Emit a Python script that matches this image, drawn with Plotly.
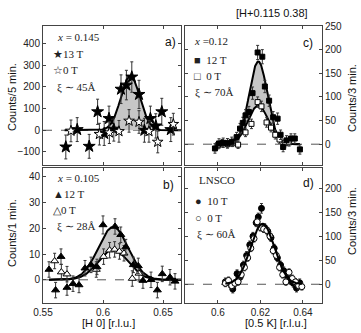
import numpy as np
import plotly.graph_objects as go

# ---------------- data ----------------
# panel a) x = 0.145
a_x_13T = [0.569, 0.5785, 0.5885, 0.5955, 0.601, 0.605, 0.609, 0.615, 0.6195, 0.624, 0.630, 0.6345, 0.6395, 0.644, 0.649, 0.6565]
a_y_13T = [-77, 3, -74, 85, -15, 54, 5, 189, 208, 245, 165, 0, 54, 20, 85, 3]
a_e_13T = [55, 55, 55, 58, 55, 57, 55, 66, 68, 70, 65, 55, 57, 56, 62, 55]
a_x_0T = [0.5733, 0.597, 0.6053, 0.6133, 0.6217, 0.630, 0.6383, 0.6456, 0.6586]
a_y_0T = [-3, -18, -11, -5, 43, 38, -5, -54, 28]
a_e_0T = [50, 50, 50, 50, 52, 52, 50, 50, 50]
a_fit_13T = (250, 0.6228, 0.0079)   # amplitude, centre, sigma
a_fit_range = (0.568, 0.665)

# panel b) x = 0.105
b_x_12T = [0.555, 0.5605, 0.565, 0.570, 0.575, 0.580, 0.585, 0.590, 0.595, 0.600, 0.6100, 0.6148, 0.619, 0.6253, 0.6294, 0.6333, 0.640, 0.6453, 0.6494, 0.6558, 0.660]
b_y_12T = [4, -4, 9, -3, -1.5, -2, 4.5, 5.8, 5, 21.3, 20.7, 17.5, 12.7, 5.8, 5.4, -0.3, 0, -4, 2.3, 1, -0.6]
b_e_12T = [3, 3, 3, 3, 3, 3, 3, 3, 3, 3.5, 3, 3, 3, 3, 3, 3, 3, 3, 3, 3, 3]
b_x_0T = [0.5597, 0.5653, 0.570, 0.5944, 0.6005, 0.6055, 0.6097, 0.6137, 0.6175, 0.6244, 0.6300]
b_y_0T = [7.3, 3, 2.2, 4, 9, 11.5, 11.8, 11, 10.3, 0.5, 2.5]
b_e_0T = [3, 3, 3, 3, 3, 3, 3, 3, 3, 3, 3]
b_fit_12T = (20.5, 0.6085, 0.0125)
b_fit_0T = (11.7, 0.6085, 0.0125)
b_fit_range = (0.555, 0.665)

# panel c) x = 0.12
c_x_12T = [0.5986, 0.6005, 0.6025, 0.6045, 0.6065, 0.6088, 0.6104, 0.6117, 0.6130, 0.6146, 0.6163, 0.6187, 0.6209, 0.6221, 0.6241, 0.6260, 0.6281, 0.6295, 0.6307, 0.6323, 0.6344, 0.6362, 0.6386]
c_y_12T = [-9, 1.5, 3, 2, 5, 15, 33, 45, 61, 68, 108, 194, 185, 122, 92, 57, 54, 20, -6, 8, 12, 12, -11]
c_e_12T = [10, 10, 10, 10, 10, 10, 11, 12, 12, 12, 13, 15, 15, 13, 12, 12, 12, 10, 10, 10, 10, 10, 10]
c_x_0T = [0.6000, 0.6020, 0.6045, 0.6070, 0.6095, 0.6130, 0.6158, 0.6187, 0.6205, 0.6229, 0.6250, 0.6270, 0.6290, 0.6315, 0.6335]
c_y_0T = [-2, 2, 0, 3, -1, 25, 43, 89, 80, 46, 35, 20, 10, 2, 4]
c_e_0T = [8, 8, 8, 8, 8, 9, 10, 11, 11, 10, 9, 9, 8, 8, 8]
c_fit_12T = (175, 0.6190, 0.0043)
c_fit_0T = (82, 0.6190, 0.0048)
c_fit_range = (0.5986, 0.6386)

# panel d) LNSCO
d_x_10T = [0.6035, 0.6055, 0.6070, 0.6090, 0.6105, 0.6120, 0.6135, 0.6150, 0.6165, 0.6180, 0.6190, 0.6205, 0.6220, 0.6235, 0.6250, 0.6265, 0.6280, 0.6295, 0.6310, 0.6325, 0.6340, 0.6355, 0.6370, 0.6385]
d_y_10T = [5, 2, -10, 22, 15, 40, 60, 82, 100, 128, 140, 158, 118, 110, 97, 75, 55, 40, 28, 18, 8, 2, -8, 3]
d_e_10T = [8] * 11 + [10] + [8] * 12
d_x_0T = [0.6035, 0.6050, 0.6065, 0.6080, 0.6095, 0.6110, 0.6125, 0.6140, 0.6155, 0.6170, 0.6185, 0.6200, 0.6215, 0.6230, 0.6245, 0.6260, 0.6275, 0.6290, 0.6305, 0.6320, 0.6335, 0.6350, 0.6365, 0.6380, 0.6395]
d_y_0T = [2, 8, -3, 2, 5, 20, 35, 55, 75, 95, 130, 118, 115, 112, 100, 70, 60, 35, 20, 5, 25, 12, 5, -3, -5]
d_e_0T = [7] * 25
d_fit = (126, 0.6210, 0.0056)
d_fit_range = (0.6035, 0.6395)

# tick values
a_yticks = [-100, 0, 100, 200, 300, 400]
b_yticks = [0, 10, 20, 30, 40]
c_yticks = [0, 50, 100, 150, 200, 250]
d_yticks = [0, 50, 100, 150, 200]
ab_xticks = [0.55, 0.6, 0.65]
ab_xticklabels = ["0.55", "0.6", "0.65"]
cd_xticks = [0.6, 0.62, 0.64]
cd_xticklabels = ["0.6", "0.62", "0.64"]

# ---------------- figure ----------------
W, H = 361, 333
ML, MR, MT, MB = 43, 39, 26, 30
PW, PH = W - ML - MR, H - MT - MB


def px(x):
    return (x - ML) / PW


def py(y):
    return (H - MB - y) / PH


def gauss(p, rng):
    xs = np.linspace(rng[0], rng[1], 300)
    return xs, p[0] * np.exp(-0.5 * ((xs - p[1]) / p[2]) ** 2)


fig = go.Figure()
FILL = "#c6c6c6"
ERR = dict(type="data", thickness=1, width=1.5, color="#333")


def add_fill(xa, ya, upper, lower, rng):
    xs, yu = gauss(upper, rng)
    if lower is None:
        yl = np.zeros_like(xs)
    else:
        _, yl = gauss(lower, rng)
    fig.add_trace(go.Scatter(x=xs, y=yl, mode="lines", line=dict(color="black", width=2 if lower else 0),
                             xaxis=xa, yaxis=ya, showlegend=False, hoverinfo="skip"))
    fig.add_trace(go.Scatter(x=xs, y=yu, mode="lines", line=dict(color="black", width=2),
                             fill="tonexty", fillcolor=FILL,
                             xaxis=xa, yaxis=ya, showlegend=False, hoverinfo="skip"))


def add_pts(xa, ya, xs, ys, es, symbol, filled, size):
    fig.add_trace(go.Scatter(
        x=xs, y=ys, mode="markers", xaxis=xa, yaxis=ya, showlegend=False,
        error_y=dict(array=es, **ERR),
        marker=dict(symbol=symbol, size=size, color="black" if filled else "white",
                    line=dict(color="black", width=1))))


# dashed zero lines
for xr, yr in [("x", "y"), ("x2", "y2"), ("x3", "y3"), ("x4", "y4")]:
    fig.add_shape(type="line", xref=f"{xr} domain", yref=yr, x0=0, x1=1, y0=0, y1=0,
                  line=dict(color="#555", width=1, dash="dash"), layer="below")

# panel a
add_fill("x", "y", a_fit_13T, None, a_fit_range)
add_pts("x", "y", a_x_13T, a_y_13T, a_e_13T, "star", True, 9)
add_pts("x", "y", a_x_0T, a_y_0T, a_e_0T, "star", False, 8)

# panel b
add_fill("x2", "y2", b_fit_12T, b_fit_0T, b_fit_range)
add_pts("x2", "y2", b_x_0T, b_y_0T, b_e_0T, "triangle-up", False, 7)
add_pts("x2", "y2", b_x_12T, b_y_12T, b_e_12T, "triangle-up", True, 7)

# panel c
add_fill("x3", "y3", c_fit_12T, c_fit_0T, c_fit_range)
add_pts("x3", "y3", c_x_0T, c_y_0T, c_e_0T, "square", False, 5)
add_pts("x3", "y3", c_x_12T, c_y_12T, c_e_12T, "square", True, 5)

# panel d
add_pts("x4", "y4", d_x_10T, d_y_10T, d_e_10T, "circle", True, 6)
add_pts("x4", "y4", d_x_0T, d_y_0T, d_e_0T, "circle", False, 6)
xs, ys = gauss(d_fit, d_fit_range)
fig.add_trace(go.Scatter(x=xs, y=ys, mode="lines", line=dict(color="black", width=2),
                         xaxis="x4", yaxis="y4", showlegend=False, hoverinfo="skip"))

# axes
TF = dict(family="Liberation Sans, Arial, sans-serif", size=10, color="#222")
common = dict(showline=True, linecolor="#444", linewidth=1, mirror="ticks", ticks="inside",
              ticklen=3, tickcolor="#444", showgrid=False, zeroline=False, tickfont=TF,
              automargin=False)
xa_dom, xc_dom = [0, px(181)], [px(185), 1]
top_dom, bot_dom = [py(165), 1], [0, py(168)]

fig.update_layout(
    width=W, height=H, margin=dict(l=ML, r=MR, t=MT, b=MB, autoexpand=False),
    plot_bgcolor="white", paper_bgcolor="white", hovermode=False,
    xaxis=dict(domain=xa_dom, anchor="y", range=[0.55, 0.665], tickvals=ab_xticks,
               showticklabels=False, **common),
    yaxis=dict(domain=top_dom, anchor="x", range=[-160, 480], tickvals=a_yticks, **common),
    xaxis2=dict(domain=xa_dom, anchor="y2", range=[0.55, 0.665], tickvals=ab_xticks,
                ticktext=ab_xticklabels, **common),
    yaxis2=dict(domain=bot_dom, anchor="x2", range=[-9, 43.4], tickvals=b_yticks, **common),
    xaxis3=dict(domain=xc_dom, anchor="y3", range=[0.5845, 0.649], tickvals=cd_xticks,
                showticklabels=False, **common),
    yaxis3=dict(domain=top_dom, anchor="x3", range=[-44, 250], tickvals=c_yticks, side="right", **common),
    xaxis4=dict(domain=xc_dom, anchor="y4", range=[0.5845, 0.649], tickvals=cd_xticks,
                ticktext=cd_xticklabels, **common),
    yaxis4=dict(domain=bot_dom, anchor="x4", range=[-39, 242], tickvals=d_yticks, side="right", **common),
)

SANS = dict(family="Liberation Sans, Arial, sans-serif", color="#111")
SERIF = dict(family="Liberation Serif, Times New Roman, serif", size=11, color="#222")


def note(text, x, y, font, xanchor="left", angle=0):
    fig.add_annotation(text=text, x=px(x), y=py(y), xref="paper", yref="paper",
                       xanchor=xanchor, yanchor="middle", showarrow=False, font=font,
                       textangle=angle)


note("[H+0.115 0.38]", 272, 13, dict(size=11, **SANS), "center")
note("Counts/5 min.", 12, 97, dict(size=11, **SANS), "center", -90)
note("Counts/1 min.", 12, 233, dict(size=11, **SANS), "center", -90)
note("Counts/3 min.", 352, 98, dict(size=11, **SANS), "center", -90)
note("Counts/3 min.", 352, 221, dict(size=11, **SANS), "center", -90)
note("[H 0] [r.l.u.]", 108, 323, dict(size=11, **SANS), "center")
note("[0.5 K] [r.l.u.]", 276, 323, dict(size=11, **SANS), "center")

note("a)", 170, 42, dict(size=12, **SANS), "center")
note("b)", 168, 185, dict(size=12, **SANS), "center")
note("c)", 308, 43, dict(size=12, **SANS), "center")
note("d)", 308, 183, dict(size=12, **SANS), "center")

note("<i>x</i> = 0.145", 55, 37, SERIF)
note("★13 T", 51, 54, SERIF)
note("☆0 T", 51, 70, SERIF)
note("ξ ∼ 45Å", 55, 87, SERIF)

note("<i>x</i> = 0.105", 55, 178, SERIF)
note("▲12 T", 51, 194, SERIF)
note("△0 T", 51, 210, SERIF)
note("ξ ∼ 28Å", 55, 226, SERIF)

note("<i>x</i> =0.12", 192, 41, SERIF)
note("■  12 T", 192, 60, SERIF)
note("□  0 T", 192, 76, SERIF)
note("ξ ∼ 70Å", 193, 92, SERIF)

note("LNSCO", 197, 180, SERIF)
note("●  10 T", 193, 201, SERIF)
note("○  0 T", 193, 218, SERIF)
note("ξ ∼ 60Å", 195, 234, SERIF)

fig.write_html("out.html", config={"displayModeBar": False, "staticPlot": True},
               post_script="document.body.style.margin='0';document.body.style.padding='0';")
